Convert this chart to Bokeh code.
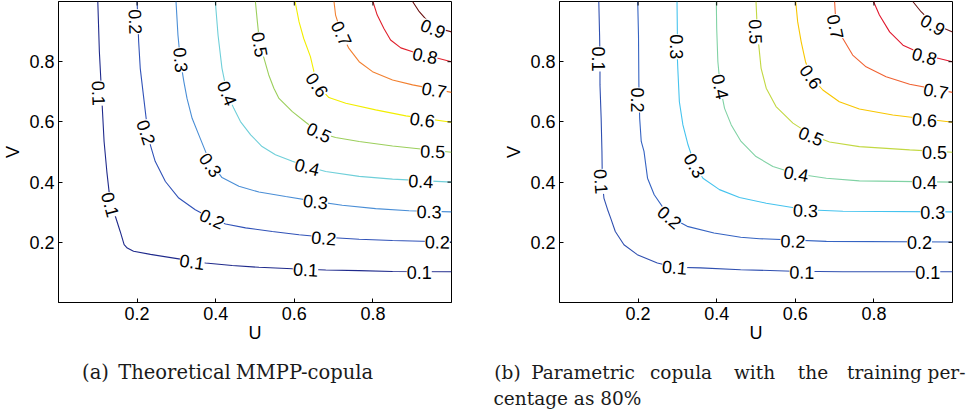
import math
from bokeh.plotting import figure
from bokeh.models import ColumnDataSource, FixedTicker, Range1d
from bokeh.layouts import column, row
from bokeh.embed import file_html
from bokeh.resources import INLINE
from bokeh.core.properties import value

# ---------------- data ----------------
levels = ["0.1", "0.2", "0.3", "0.4", "0.5", "0.6", "0.7", "0.8", "0.9"]
tick_values = [0.2, 0.4, 0.6, 0.8]

a_colors = ["#1f2a8c", "#3052b8", "#4a8ed6", "#6fcfd9", "#9ccf5c", "#f2ee00", "#f28030", "#e0202c", "#6a1010"]
b_colors = ["#2f4fb0", "#3563c2", "#45c3ee", "#80d2a4", "#c2d842", "#f8c600", "#f06232", "#e0182e", "#6e1818"]

# (a) Theoretical MMPP-copula : contour lines
a_01_u = [0.100, 0.104, 0.108, 0.112, 0.116, 0.123, 0.132, 0.145, 0.157, 0.167, 0.175, 0.191, 0.234, 0.310, 0.374, 0.442, 0.510, 0.595, 0.680, 0.765, 0.850, 1.0]
a_01_v = [1.0, 0.833, 0.734, 0.634, 0.535, 0.435, 0.330, 0.285, 0.236, 0.192, 0.181, 0.170, 0.160, 0.144, 0.131, 0.123, 0.117, 0.112, 0.108, 0.106, 0.103, 0.102]
a_02_u = [0.200, 0.204, 0.208, 0.217, 0.223, 0.231, 0.246, 0.272, 0.306, 0.348, 0.391, 0.425, 0.476, 0.544, 0.612, 0.680, 0.765, 0.850, 1.0]
a_02_v = [1.0, 0.866, 0.778, 0.678, 0.612, 0.535, 0.469, 0.402, 0.347, 0.308, 0.278, 0.261, 0.248, 0.236, 0.225, 0.217, 0.210, 0.206, 0.201]
a_03_u = [0.299, 0.304, 0.310, 0.319, 0.327, 0.340, 0.357, 0.374, 0.395, 0.416, 0.459, 0.510, 0.578, 0.654, 0.722, 0.807, 0.892, 1.0]
a_03_v = [1.0, 0.888, 0.806, 0.734, 0.678, 0.612, 0.557, 0.502, 0.452, 0.415, 0.386, 0.367, 0.352, 0.336, 0.323, 0.312, 0.305, 0.301]
a_04_u = [0.399, 0.406, 0.416, 0.429, 0.446, 0.463, 0.489, 0.518, 0.552, 0.595, 0.633, 0.680, 0.765, 0.850, 1.0]
a_04_v = [1.0, 0.888, 0.778, 0.695, 0.645, 0.601, 0.557, 0.518, 0.491, 0.469, 0.452, 0.435, 0.419, 0.410, 0.400]
a_05_u = [0.501, 0.506, 0.512, 0.523, 0.535, 0.548, 0.561, 0.595, 0.629, 0.663, 0.705, 0.765, 0.850, 1.0]
a_05_v = [1.0, 0.933, 0.857, 0.811, 0.756, 0.712, 0.678, 0.634, 0.599, 0.565, 0.548, 0.535, 0.520, 0.499]
a_06_u = [0.602, 0.612, 0.624, 0.641, 0.658, 0.688, 0.731, 0.807, 0.884, 1.0]
a_06_v = [1.0, 0.933, 0.877, 0.817, 0.723, 0.681, 0.662, 0.640, 0.620, 0.599]
a_07_u = [0.701, 0.705, 0.720, 0.739, 0.765, 0.799, 0.850, 0.901, 1.0]
a_07_v = [1.0, 0.955, 0.894, 0.844, 0.800, 0.767, 0.739, 0.723, 0.698]
a_08_u = [0.800, 0.811, 0.828, 0.845, 0.871, 0.901, 1.0]
a_08_v = [1.0, 0.955, 0.910, 0.872, 0.846, 0.833, 0.800]
a_09_u = [0.901, 0.918, 0.952, 1.0]
a_09_v = [1.0, 0.966, 0.916, 0.899]

a_lab_u = [0.102, 0.132, 0.340, 0.629, 0.918,
           0.196, 0.223, 0.391, 0.675, 0.964,
           0.311, 0.387, 0.654, 0.943,
           0.429, 0.633, 0.922,
           0.512, 0.663, 0.952,
           0.658, 0.926,
           0.720, 0.956,
           0.933,
           0.953]
a_lab_v = [0.695, 0.325, 0.135, 0.109, 0.100,
           0.933, 0.565, 0.278, 0.214, 0.201,
           0.806, 0.457, 0.335, 0.302,
           0.695, 0.450, 0.403,
           0.857, 0.565, 0.502,
           0.723, 0.607,
           0.894, 0.706,
           0.820,
           0.910]
a_lab_t = ["0.1"] * 5 + ["0.2"] * 5 + ["0.3"] * 4 + ["0.4"] * 3 + ["0.5"] * 3 + ["0.6"] * 2 + ["0.7"] * 2 + ["0.8", "0.9"]
a_lab_deg = [-88, -75, -8, -3, 0,
             -88, -72, -25, -5, -1,
             -85, -55, -6, -1,
             -68, -14, -3,
             -80, -25, -2,
             -55, -8,
             -65, -10,
             -12,
             -22]

# (b) Parametric copula, 80 % training
b_01_u = [0.100, 0.102, 0.103, 0.103, 0.106, 0.108, 0.109, 0.113, 0.122, 0.130, 0.142, 0.164, 0.198, 0.249, 0.295, 0.359, 0.461, 0.594, 0.721, 1.0]
b_01_v = [1.0, 0.888, 0.809, 0.723, 0.612, 0.502, 0.402, 0.347, 0.310, 0.281, 0.236, 0.192, 0.159, 0.131, 0.117, 0.115, 0.109, 0.104, 0.102, 0.102]
b_02_u = [0.199, 0.201, 0.202, 0.204, 0.208, 0.215, 0.224, 0.241, 0.279, 0.325, 0.393, 0.461, 0.509, 0.679, 1.0]
b_02_v = [1.0, 0.888, 0.723, 0.612, 0.535, 0.502, 0.413, 0.358, 0.286, 0.253, 0.231, 0.217, 0.212, 0.203, 0.201]
b_03_u = [0.299, 0.300, 0.299, 0.301, 0.305, 0.314, 0.327, 0.344, 0.365, 0.407, 0.458, 0.526, 0.628, 0.721, 1.0]
b_03_v = [1.0, 0.888, 0.844, 0.778, 0.667, 0.590, 0.524, 0.457, 0.413, 0.375, 0.349, 0.330, 0.308, 0.303, 0.301]
b_04_u = [0.399, 0.400, 0.403, 0.409, 0.420, 0.437, 0.462, 0.500, 0.543, 0.602, 0.679, 0.763, 1.0]
b_04_v = [1.0, 0.910, 0.800, 0.717, 0.645, 0.590, 0.535, 0.485, 0.452, 0.428, 0.413, 0.404, 0.400]
b_05_u = [0.500, 0.502, 0.500, 0.507, 0.513, 0.526, 0.551, 0.594, 0.640, 0.687, 0.763, 0.891, 1.0]
b_05_v = [1.0, 0.944, 0.899, 0.855, 0.778, 0.712, 0.651, 0.596, 0.557, 0.533, 0.518, 0.507, 0.499]
b_06_u = [0.601, 0.606, 0.615, 0.626, 0.640, 0.670, 0.712, 0.763, 0.848, 1.0]
b_06_v = [1.0, 0.933, 0.866, 0.800, 0.750, 0.706, 0.667, 0.643, 0.623, 0.599]
b_07_u = [0.700, 0.702, 0.704, 0.721, 0.746, 0.780, 0.831, 0.891, 1.0]
b_07_v = [1.0, 0.955, 0.916, 0.877, 0.822, 0.783, 0.750, 0.725, 0.698]
b_08_u = [0.799, 0.814, 0.840, 0.874, 0.929, 1.0]
b_08_v = [1.0, 0.955, 0.899, 0.855, 0.822, 0.800]
b_09_u = [0.899, 0.920, 0.950, 1.0]
b_09_v = [1.0, 0.966, 0.927, 0.899]

b_lab_u = [0.098, 0.106, 0.293, 0.617, 0.937,
           0.199, 0.280, 0.594, 0.916,
           0.297, 0.344, 0.626, 0.950,
           0.409, 0.602, 0.929,
           0.499, 0.640, 0.954,
           0.640, 0.929,
           0.702, 0.958,
           0.929,
           0.950]
b_lab_v = [0.809, 0.402, 0.117, 0.101, 0.101,
           0.673, 0.283, 0.204, 0.199,
           0.850, 0.455, 0.306, 0.300,
           0.717, 0.428, 0.399,
           0.899, 0.553, 0.497,
           0.750, 0.607,
           0.916, 0.703,
           0.818,
           0.922]
b_lab_t = ["0.1"] * 5 + ["0.2"] * 4 + ["0.3"] * 4 + ["0.4"] * 3 + ["0.5"] * 3 + ["0.6"] * 2 + ["0.7"] * 2 + ["0.8", "0.9"]
b_lab_deg = [-90, -86, -5, -1, 0,
             -90, -40, -2, 0,
             -90, -60, -2, 0,
             -78, -10, 0,
             -88, -22, 0,
             -55, -5,
             -78, -10,
             -15,
             -30]

caption_a_words = ["(a)", "Theoretical", "MMPP-copula"]
caption_b_words = ["(b)", "Parametric", "copula", "with", "the", "training", "per-"]
caption_b_line2 = "centage as 80%"

a_lines = [(a_01_u, a_01_v), (a_02_u, a_02_v), (a_03_u, a_03_v), (a_04_u, a_04_v), (a_05_u, a_05_v),
           (a_06_u, a_06_v), (a_07_u, a_07_v), (a_08_u, a_08_v), (a_09_u, a_09_v)]
b_lines = [(b_01_u, b_01_v), (b_02_u, b_02_v), (b_03_u, b_03_v), (b_04_u, b_04_v), (b_05_u, b_05_v),
           (b_06_u, b_06_v), (b_07_u, b_07_v), (b_08_u, b_08_v), (b_09_u, b_09_v)]

SANS = "Liberation Sans"
SERIF = "DejaVu Serif"
TOP_H = 348


def style_axis(ax):
    ax.ticker = FixedTicker(ticks=tick_values)
    ax.major_tick_in = 4
    ax.major_tick_out = 0
    ax.minor_tick_line_color = None
    ax.axis_line_color = "black"
    ax.major_tick_line_color = "black"
    ax.major_label_text_font = SANS
    ax.major_label_text_font_size = "18px"
    ax.major_label_text_color = "black"
    ax.major_label_standoff = 4
    ax.axis_label_text_font = SANS
    ax.axis_label_text_font_size = "18px"
    ax.axis_label_text_font_style = "normal"
    ax.axis_label_text_color = "black"


def make_panel(lines, colors, lab_u, lab_v, lab_t, lab_deg, width, left, right):
    p = figure(width=width, height=TOP_H, x_range=Range1d(0, 1), y_range=Range1d(0, 1),
               output_backend="svg", toolbar_location=None, title=None,
               min_border_left=left, min_border_right=right, min_border_top=1, min_border_bottom=46)
    p.grid.visible = False
    p.outline_line_color = "black"
    p.background_fill_color = "white"
    p.border_fill_color = "white"
    style_axis(p.xaxis[0])
    style_axis(p.yaxis[0])
    p.xaxis.axis_label = "U"
    p.yaxis.axis_label = "V"
    p.xaxis.axis_label_standoff = 0
    p.yaxis.axis_label_standoff = 3

    for (u, v), c in zip(lines, colors):
        p.line(u, v, line_color=c, line_width=1.1)

    # inward ticks on the right and top edges of the box (half of each dash is clipped)
    p.scatter(x=[1.0] * len(tick_values), y=tick_values, marker="dash", size=8,
              line_color="black", line_width=1)
    p.scatter(x=tick_values, y=[1.0] * len(tick_values), marker="dash", size=8,
              angle=math.pi / 2, line_color="black", line_width=1)

    src = ColumnDataSource(dict(x=lab_u, y=lab_v, t=lab_t,
                                a=[math.radians(d) for d in lab_deg]))
    p.text(x="x", y="y", text="t", angle="a", source=src,
           text_font=value(SANS), text_font_size="18px", text_color="black",
           text_align="center", text_baseline="middle",
           background_fill_color="white", background_fill_alpha=1.0)
    return p


pa = make_panel(a_lines, a_colors, a_lab_u, a_lab_v, a_lab_t, a_lab_deg, 500, 58, 49)
pb = make_panel(b_lines, b_colors, b_lab_u, b_lab_v, b_lab_t, b_lab_deg, 466, 59, 14)

# captions strip (pixel coordinates, y downward)
CAP_H = 414 - TOP_H
pc = figure(width=966, height=CAP_H, x_range=Range1d(0, 966), y_range=Range1d(CAP_H, 0),
            x_axis_type=None, y_axis_type=None, output_backend="svg", toolbar_location=None,
            title=None, min_border=0, outline_line_color=None)
pc.grid.visible = False

cap_a_x = [95, 174, 304]
cap_b_x = [507, 582.5, 680.5, 754, 812.5, 884, 946]
base1 = 372 - TOP_H
base2 = 398 - TOP_H
pc.text(x=cap_a_x, y=[base1] * len(cap_a_x), text=caption_a_words,
        text_font=value(SERIF), text_font_size="19.5px", text_color="#1a1a1a",
        text_align="center", text_baseline="alphabetic")
pc.text(x=cap_b_x, y=[base1] * len(cap_b_x), text=caption_b_words,
        text_font=value(SERIF), text_font_size="18.5px", text_color="#1a1a1a",
        text_align="center", text_baseline="alphabetic")
pc.text(x=[493], y=[base2], text=[caption_b_line2],
        text_font=value(SERIF), text_font_size="18.5px", text_color="#1a1a1a",
        text_align="left", text_baseline="alphabetic")

layout = column(row(pa, pb), pc)
open("out.html", "w").write(file_html(layout, INLINE))
